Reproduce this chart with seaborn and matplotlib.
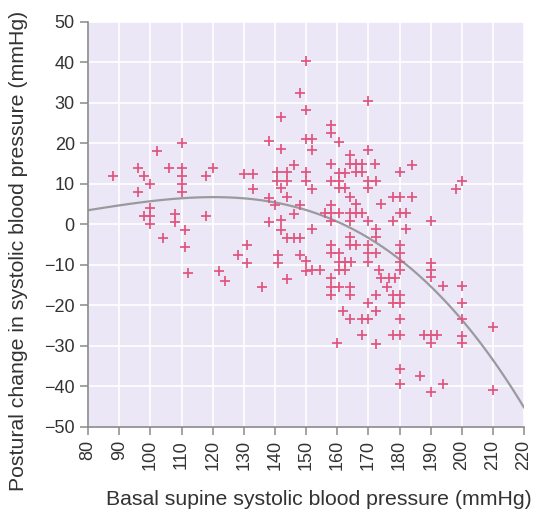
import numpy as np
import pandas as pd
import matplotlib
matplotlib.use("Agg")
import matplotlib.pyplot as plt
import seaborn as sns

# readings: basal supine SBP vs postural change
basal = [88, 96, 98, 100, 96, 102, 106, 110, 110, 110, 110, 110, 118, 120,
         98, 100, 100, 100, 108, 108, 111, 111, 104, 112, 118, 122, 124,
         128, 131, 131, 136, 138, 141, 141, 142, 142, 144, 146, 148, 144,
         146, 148, 150, 150, 148,
         130, 133, 133, 138, 142, 142, 140.5, 140.5, 144, 144, 146, 142,
         144, 138, 140, 150, 148, 150, 150, 152, 152, 158, 158, 158, 150,
         150, 158, 152, 158, 158, 156, 170, 160.5, 170, 164, 164, 166, 168,
         172, 184, 180, 160.5, 162.5, 166, 168, 160.5, 170, 172.5, 160.5,
         162.5, 170, 200, 198, 164, 178, 180, 184, 166, 174, 160.5, 164,
         166, 168, 180, 182,
         158, 164, 170, 178, 190, 152, 182, 172.5, 172.5, 164, 164, 166,
         158, 158, 160.5, 170, 170, 172.5, 170, 180, 180, 180, 180, 152,
         154.5, 160.5, 162.5, 164.5, 160.5, 162.5, 158, 158, 160.5, 158,
         164, 164, 173.5, 174, 176.5, 178.5, 176, 172.5, 178, 180, 178,
         180, 170, 172.5, 162, 164, 168, 170, 180, 168, 160, 172.5, 178,
         180, 190, 190, 190, 194, 200, 200, 200, 210, 188, 190, 192, 190,
         200, 200, 180, 180, 186.5, 190, 194, 210]
postural = [12, 14, 12, 10, 8, 18, 14, 20, 14, 12, 10, 8, 12, 14,
            2, 4, 2, 0, 2.5, 0.5, -1.5, -5.5, -3.5, -12, 2, -11.5, -14,
            -7.5, -5, -9.5, -15.5, 0.5, -7.5, -9.5, 1, -1.5, -3.5, -3.5, -3.5, -13.5,
            2.5, -7.5, -9, -11.5, 4.8,
            12.5, 12.5, 8.7, 20.5, 26.4, 18.5, 12.8, 10.6, 12.8, 10.6, 14.7, 9,
            6.8, 6.6, 4.8, 40.4, 32.4, 28.3, 21, 21, 18.4, 24.6, 22.6, 14.8, 12.8,
            10.6, 10.7, 8.8, 4.8, 2.8, 2.8, 30.5, 20.4, 18.4, 17, 15, 15, 15,
            15, 14.7, 12.8, 12.6, 12.6, 12.8, 12.8, 10.8, 10.8, 10.8, 8.9,
            8.9, 8.9, 10.7, 8.8, 6.7, 6.7, 6.7, 6.7, 4.9, 4.9, 2.9, 2.9,
            2.9, 2.9, 2.9, 2.9,
            0.9, 0.9, 0.7, 0.7, 0.7, -1.2, -1.2, -1.2, -3.2, -3.2, -5.1, -5.1,
            -5.1, -7.1, -7.1, -5.1, -7.1, -7.1, -9.2, -5.1, -7.1, -9.2, -11.4, -11.4,
            -11.4, -9.2, -9.2, -9.2, -11.2, -11.2, -13.3, -15.4, -15.4, -17.4,
            -15.4, -17.4, -11.2, -13.3, -13.3, -13.3, -15.5, -17.4, -17.4, -17.4, -19.5,
            -19.5, -19.5, -21.5, -21.4, -23.3, -23.3, -23.3, -23.3, -27.3, -29.3, -29.5, -27.3,
            -27.3, -9.6, -11.2, -13, -15.2, -15.2, -19.5, -23.3, -25.4, -27.3, -27.3, -27.3, -29.3,
            -27.5, -29.3, -35.7, -39.4, -37.4, -41.5, -39.4, -41]

# points along the grey trend curve
curve_x = [80, 95.6, 115, 134, 148, 158, 170, 180, 190, 200, 210, 220]
curve_y = [3.4, 5.4, 6.6, 6.0, 4.2, 1.2, -3.4, -8.8, -15.4, -23.2, -33.5, -45.4]

df = pd.DataFrame({"basal": basal, "postural": postural})

sns.set_theme(style="white")
plt.rcParams["font.family"] = ["Liberation Sans", "DejaVu Sans"]

fig = plt.figure(figsize=(5.37, 5.18), dpi=100)
ax = fig.add_axes([0.164, 0.176, 0.812, 0.782])
ax.set_facecolor("#ebe7f6")

sns.regplot(x=curve_x, y=curve_y, order=3, scatter=False, ci=None, ax=ax,
            line_kws={"color": "#9a9a9e", "lw": 1.6, "zorder": 2})
sns.scatterplot(data=df, x="basal", y="postural", marker="+", color="#e0557e",
                s=42, linewidth=1.25, ax=ax, zorder=3)

ax.set_xlim(80, 220)
ax.set_ylim(-50, 50)
ax.set_xticks(range(80, 221, 10))
ax.set_yticks(range(-50, 51, 10))
ax.set_yticklabels([str(v).replace("-", "\u2212") for v in range(-50, 51, 10)])
ax.grid(True, color="white", lw=1.2)
ax.set_axisbelow(True)

for s in ["top", "right"]:
    ax.spines[s].set_visible(False)
for s in ["left", "bottom"]:
    ax.spines[s].set_color("#8a8a8a")
    ax.spines[s].set_linewidth(1.2)
ax.tick_params(axis="both", which="both", direction="out", length=6, width=1.1,
               color="#8a8a8a", labelsize=13, labelcolor="#333333", left=True, bottom=True)
ax.tick_params(axis="x", labelrotation=90)

ax.set_xlabel("Basal supine systolic blood pressure (mmHg)", fontsize=15.3, color="#333333")
ax.set_ylabel("Postural change in systolic blood pressure (mmHg)", fontsize=15.3, color="#333333")
ax.xaxis.set_label_coords(0.53, -0.155)
ax.yaxis.set_label_coords(-0.138, 0.435)

fig.savefig("out.png", dpi=100)
